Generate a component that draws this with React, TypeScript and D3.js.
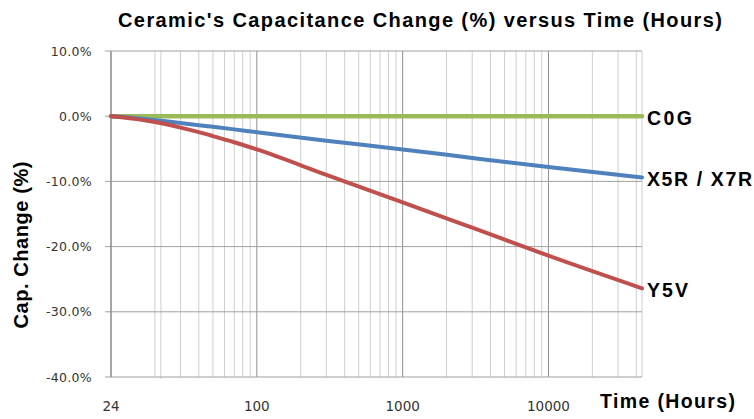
import React from 'react';
import * as d3 from 'd3';

// hours on the log axis (the axis starts one decade below 100 and is labelled "24")
const hours = [10, 15, 20, 30, 40, 50, 70, 100, 300, 1000, 3000, 10000, 43800];
const c0g = [0, 0, 0, 0, 0, 0, 0, 0, 0, 0, 0, 0, 0];
const x5r = [0, -0.3, -0.6, -1.05, -1.38, -1.63, -2.02, -2.45, -3.75, -5.1, -6.4, -7.8, -9.4];
const y5v = [0, -0.45, -0.9, -1.75, -2.45, -3.05, -4.0, -5.1, -9.0, -13.2, -17.1, -21.4, -26.4];

const seriesNames = ['C0G', 'X5R / X7R', 'Y5V'];
const seriesColors = ['#9bbb59', '#4f81bd', '#c0504d'];

const xTickValues = [10, 100, 1000, 10000];
const xTickLabels = ['24', '100', '1000', '10000'];
const yTickValues = [10, 0, -10, -20, -30, -40];
const extraGridHours = [22];

const W = 754;
const H = 419;
const plot = { left: 111, right: 642, top: 51, bottom: 377 };

export default function App() {
  const x = d3.scaleLog().domain([10, 43800]).range([plot.left, plot.right]);
  const y = d3.scaleLinear().domain([-40, 10]).range([plot.bottom, plot.top]);

  // minor gridlines 20..40000
  const minor: number[] = [];
  for (let dec = 10; dec <= 10000; dec *= 10) {
    for (let k = 2; k <= 9; k++) {
      const v = dec * k;
      if (v <= 43800) minor.push(v);
    }
  }

  const line = d3
    .line<[number, number]>()
    .x((d) => x(d[0]))
    .y((d) => y(d[1]))
    .curve(d3.curveMonotoneX);

  const series = [c0g, x5r, y5v].map((vals, i) => ({
    name: seriesNames[i],
    color: seriesColors[i],
    points: hours.map((h, j) => [h, vals[j]] as [number, number]),
  }));

  const labelLengths = [45, 105, 41];

  return (
    <svg
      width={W}
      height={H}
      style={{ position: 'absolute', left: 0, top: 0, background: '#fff' }}
      fontFamily="'Liberation Sans', Arial, sans-serif"
    >
      {/* title */}
      <text
        x={420}
        y={27}
        textAnchor="middle"
        fontSize={20}
        fontWeight="bold"
        textLength={604}
        lengthAdjust="spacing"
        fill="#000"
      >
        Ceramic's Capacitance Change (%) versus Time  (Hours)
      </text>

      {/* vertical gridlines */}
      {minor.map((v) => (
        <line key={'m' + v} x1={x(v)} x2={x(v)} y1={plot.top} y2={plot.bottom} stroke="#cfcfcf" strokeWidth={1} />
      ))}
      {extraGridHours.map((v) => (
        <line key={'e' + v} x1={x(v)} x2={x(v)} y1={plot.top} y2={plot.bottom + 2} stroke="#cfcfcf" strokeWidth={1} />
      ))}
      {xTickValues.map((v) => (
        <line key={'M' + v} x1={x(v)} x2={x(v)} y1={plot.top} y2={plot.bottom} stroke="#8f8f8f" strokeWidth={1} />
      ))}
      <line x1={plot.right} x2={plot.right} y1={plot.top} y2={plot.bottom} stroke="#cfcfcf" strokeWidth={1} />

      {/* horizontal gridlines + y ticks */}
      {yTickValues.map((v) => (
        <g key={'y' + v}>
          <line x1={plot.left - 6} x2={plot.right} y1={y(v)} y2={y(v)} stroke="#a0a0a0" strokeWidth={1} />
          <text
            x={92}
            y={y(v)}
            dy="0.36em"
            textAnchor="end"
            fontSize={12.5}
            fontFamily="'DejaVu Sans', Verdana, sans-serif"
            letterSpacing={0.3}
            fill="#333"
          >
            {v.toFixed(1) + '%'}
          </text>
        </g>
      ))}
      <line x1={plot.left} x2={plot.left} y1={plot.top} y2={plot.bottom} stroke="#868686" strokeWidth={1} />

      {/* x labels */}
      {xTickValues.map((v, i) => (
        <text
          key={'xl' + v}
          x={x(v)}
          y={411}
          textAnchor="middle"
          fontSize={13.5}
          fontFamily="'DejaVu Sans', Verdana, sans-serif"
          fill="#333"
        >
          {xTickLabels[i]}
        </text>
      ))}

      {/* series */}
      {series.map((s, i) => (
        <path
          key={s.name}
          d={line(s.points) || ''}
          fill="none"
          stroke={s.color}
          strokeWidth={i === 0 ? 4.5 : 4}
          strokeLinecap="round"
        />
      ))}

      {/* series labels */}
      {series.map((s, i) => (
        <text
          key={'sl' + s.name}
          x={647}
          y={y(s.points[s.points.length - 1][1]) + 9}
          fontSize={19.5}
          fontWeight="bold"
          textLength={labelLengths[i]}
          lengthAdjust="spacing"
          fill="#000"
        >
          {s.name}
        </text>
      ))}

      {/* axis titles */}
      <text
        x={600}
        y={408}
        fontSize={19.5}
        fontWeight="bold"
        textLength={135}
        lengthAdjust="spacing"
        fill="#000"
      >
        Time (Hours)
      </text>
      <text
        transform="translate(28,245) rotate(-90)"
        textAnchor="middle"
        fontSize={20}
        fontWeight="bold"
        textLength={167}
        lengthAdjust="spacing"
        fill="#000"
      >
        Cap. Change (%)
      </text>
    </svg>
  );
}
